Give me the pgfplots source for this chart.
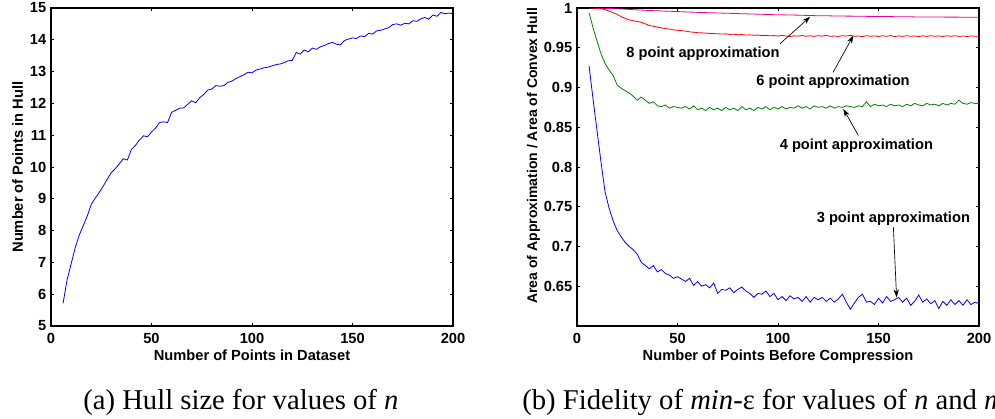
\documentclass[border=0pt]{standalone}
\usepackage{pgfplots}
\usepackage{pgfplotstable}
\usepackage{fontspec}
\setmainfont{Liberation Serif}
\setsansfont{Liberation Sans}
\pgfplotsset{compat=1.18}
\usetikzlibrary{arrows.meta}

% x  hull  a3  a4  a6  a8
\pgfplotstableread{
x hull a3 a4 a6 a8
6 5.71 0.927 0.994 1.0000 1.0000
8 6.45 0.885 0.975 1.0000 1.0000
10 6.95 0.845 0.958 0.9995 1.0000
12 7.45 0.805 0.942 0.9990 0.9998
14 7.85 0.768 0.930 0.9980 0.9996
16 8.15 0.748 0.922 0.9960 0.9994
18 8.45 0.732 0.915 0.9940 0.9992
20 8.82 0.720 0.903 0.9920 0.9990
22 9.02 0.712 0.899 0.9890 0.9988
24 9.20 0.705 0.896 0.9870 0.9985
26 9.40 0.700 0.893 0.9850 0.9982
28 9.62 0.696 0.889 0.9840 0.9979
30 9.82 0.690 0.884 0.9830 0.9976
32 9.95 0.680 0.888 0.9820 0.9974
34 10.10 0.676 0.884 0.9800 0.9971
36 10.26 0.672 0.880 0.9780 0.9969
38 10.22 0.676 0.882 0.9770 0.9967
40 10.55 0.668 0.877 0.9760 0.9965
42 10.68 0.671 0.876 0.9750 0.9963
44 10.85 0.666 0.878 0.9740 0.9961
46 10.98 0.664 0.874 0.9735 0.9959
48 10.95 0.660 0.876 0.9725 0.9957
50 11.10 0.662 0.875 0.9720 0.9955
52 11.22 0.659 0.874 0.9715 0.9953
54 11.40 0.656 0.876 0.9710 0.9951
56 11.42 0.660 0.873 0.9700 0.9949
58 11.40 0.651 0.877 0.9695 0.9947
60 11.72 0.656 0.872 0.9690 0.9945
62 11.78 0.650 0.874 0.9688 0.9943
64 11.85 0.652 0.871 0.9684 0.9942
66 11.86 0.648 0.875 0.9680 0.9940
68 11.97 0.654 0.872 0.9678 0.9939
70 12.08 0.641 0.874 0.9676 0.9937
72 12.02 0.646 0.871 0.9672 0.9936
74 12.18 0.645 0.875 0.9675 0.9934
76 12.28 0.648 0.872 0.9668 0.9933
78 12.42 0.642 0.874 0.9670 0.9931
80 12.45 0.646 0.871 0.9664 0.9930
82 12.56 0.649 0.876 0.9666 0.9928
84 12.54 0.644 0.872 0.9660 0.9927
86 12.56 0.641 0.874 0.9662 0.9925
88 12.66 0.636 0.871 0.9657 0.9924
90 12.70 0.641 0.875 0.9660 0.9922
92 12.78 0.640 0.873 0.9652 0.9921
94 12.84 0.644 0.876 0.9656 0.9919
96 12.90 0.637 0.872 0.9650 0.9918
98 12.98 0.641 0.875 0.9653 0.9916
100 12.96 0.633 0.873 0.9648 0.9915
102 13.05 0.637 0.876 0.9655 0.9914
104 13.08 0.632 0.873 0.9648 0.9913
106 13.12 0.638 0.875 0.9642 0.9912
108 13.14 0.634 0.874 0.9650 0.9911
110 13.18 0.636 0.877 0.9646 0.9910
112 13.22 0.631 0.874 0.9654 0.9909
114 13.24 0.637 0.876 0.9645 0.9907
116 13.28 0.630 0.873 0.9650 0.9906
118 13.34 0.636 0.877 0.9643 0.9904
120 13.35 0.633 0.875 0.9652 0.9903
122 13.60 0.636 0.876 0.9646 0.9902
124 13.55 0.631 0.874 0.9655 0.9902
126 13.68 0.635 0.877 0.9644 0.9901
128 13.62 0.630 0.874 0.9648 0.9900
130 13.74 0.634 0.876 0.9642 0.9900
132 13.70 0.640 0.875 0.9652 0.9899
134 13.78 0.630 0.877 0.9647 0.9898
136 13.82 0.621 0.876 0.9656 0.9898
138 13.88 0.629 0.875 0.9645 0.9897
140 13.92 0.636 0.877 0.9648 0.9896
142 13.86 0.640 0.876 0.9640 0.9896
144 13.84 0.630 0.882 0.9652 0.9895
146 13.98 0.631 0.876 0.9645 0.9894
148 14.02 0.627 0.879 0.9649 0.9894
150 14.06 0.635 0.877 0.9642 0.9893
152 14.04 0.629 0.878 0.9651 0.9893
154 14.12 0.637 0.876 0.9644 0.9892
156 14.10 0.631 0.879 0.9653 0.9892
158 14.20 0.633 0.877 0.9641 0.9891
160 14.18 0.636 0.878 0.9649 0.9890
162 14.28 0.630 0.876 0.9643 0.9890
164 14.30 0.635 0.879 0.9652 0.9889
166 14.34 0.626 0.877 0.9644 0.9889
168 14.38 0.631 0.880 0.9648 0.9888
170 14.48 0.639 0.878 0.9641 0.9888
172 14.50 0.630 0.877 0.9650 0.9888
174 14.46 0.634 0.880 0.9643 0.9887
176 14.52 0.628 0.878 0.9651 0.9887
178 14.50 0.632 0.879 0.9645 0.9886
180 14.60 0.622 0.877 0.9648 0.9886
182 14.58 0.631 0.880 0.9642 0.9886
184 14.66 0.626 0.878 0.9650 0.9885
186 14.70 0.633 0.880 0.9644 0.9885
188 14.65 0.627 0.879 0.9652 0.9885
190 14.78 0.632 0.884 0.9643 0.9885
192 14.74 0.626 0.880 0.9648 0.9884
194 14.86 0.633 0.879 0.9641 0.9884
196 14.82 0.627 0.881 0.9649 0.9884
198 14.84 0.630 0.880 0.9644 0.9884
200 14.82 0.628 0.880 0.9646 0.9884
}\hulldata

\newcommand{\axfont}{\sffamily\bfseries\fontsize{11}{13}\selectfont}

\pgfplotsset{
  matlab/.style={
    scale only axis, width=301.5pt, height=238.5pt,
    xmin=0, xmax=200, xtick={0,50,100,150,200},
    tick align=inside, tick pos=both, major tick length=2.6pt,
    axis line style={line width=0.8pt},
    every tick/.style={black, line width=0.6pt},
    ticklabel style={font=\axfont},
    x tick label style={yshift=-2pt},
    label style={font=\axfont},
    /pgf/number format/assume math mode=true,
    xlabel style={at={(axis description cs:0.5,-0.107)}, anchor=base},
  }
}

\begin{document}
\begin{tikzpicture}
\useasboundingbox (0pt,0pt) rectangle (746.25pt,313.5pt);
\clip (0pt,0pt) rectangle (746.25pt,313.5pt);

\begin{axis}[matlab, at={(38.25pt,69pt)}, anchor=south west,
  ymin=5, ymax=15, ytick={5,6,...,15},
  xlabel={Number of Points in Dataset},
  ylabel={Number of Points in Hull},
  ylabel style={at={(axis description cs:-0.0697,0.5)}, anchor=base}]
\addplot[blue, line width=0.6pt] table[x=x, y=hull] {\hulldata};
\end{axis}

\begin{axis}[matlab, at={(432.75pt,69pt)}, anchor=south west,
  ymin=0.6, ymax=1, ytick={0.65,0.7,0.75,0.8,0.85,0.9,0.95,1},
  yticklabel style={/pgf/number format/fixed, /pgf/number format/precision=2},
  xlabel={Number of Points Before Compression},
  ylabel={Area of Approximation / Area of Convex Hull},
  ylabel style={at={(axis description cs:-0.0995,0.535)}, anchor=base,
    font=\sffamily\bfseries\fontsize{10.5}{12}\selectfont}]
\addplot[blue, line width=0.6pt] table[x=x, y=a3] {\hulldata};
\addplot[green!50!black, line width=0.6pt] table[x=x, y=a4] {\hulldata};
\addplot[red, line width=0.6pt] table[x=x, y=a6] {\hulldata};
\addplot[magenta, line width=0.6pt] table[x=x, y=a8] {\hulldata};
\begin{scope}[font=\axfont]
\node at (axis cs:62.7,0.9428) {8 point approximation};
\node at (axis cs:127.4,0.9067) {6 point approximation};
\node at (axis cs:139,0.827) {4 point approximation};
\node at (axis cs:157.4,0.735) {3 point approximation};
\end{scope}
\begin{scope}[line width=0.5pt, -{Stealth[length=6pt, width=4pt]}]
\draw (axis cs:101,0.955) -- (axis cs:116,0.989);
\draw (axis cs:127.4,0.919) -- (axis cs:137.5,0.9654);
\draw (axis cs:140,0.8396) -- (axis cs:132.5,0.873);
\draw (axis cs:157.4,0.7243) -- (axis cs:159,0.636);
\end{scope}
\end{axis}

\node[anchor=base west, font=\fontsize{21.5}{24}\selectfont, inner sep=0pt] at (62.25pt,6.75pt)
  {(a) Hull size for values of \textit{n}};
\node[anchor=base west, font=\fontsize{21.5}{24}\selectfont, inner sep=0pt] at (391.5pt,6.75pt)
  {(b) Fidelity of \textit{min}-ε for values of \textit{n} and \textit{m}};
\end{tikzpicture}
\end{document}
